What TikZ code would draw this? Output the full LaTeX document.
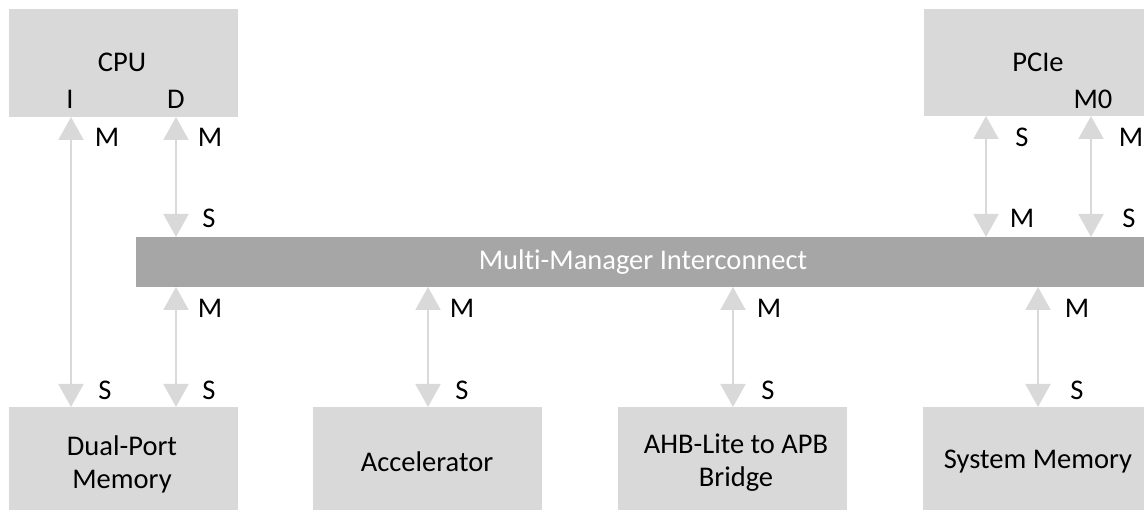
\documentclass[tikz,border=0pt]{standalone}
\usepackage{fontspec}
\setmainfont{Carlito}[Ligatures=NoCommon]
\usetikzlibrary{arrows.meta}
\definecolor{boxgray}{HTML}{D9D9D9}
\definecolor{bargray}{HTML}{A6A6A6}
\tikzset{
  unitbox/.style={fill=boxgray, inner sep=0pt, outer sep=0pt},
  busbar/.style={fill=bargray, inner sep=0pt, outer sep=0pt, text=white},
  txt/.style={inner sep=0pt, font=\fontsize{28.5}{33}\selectfont, align=center},
  conn/.style={draw=boxgray, line width=2pt,
    {Triangle[width=25pt,length=23pt]}-{Triangle[width=25pt,length=23pt]}},
}
\begin{document}
\begin{tikzpicture}[x=1pt,y=-1pt]
\useasboundingbox (0,0) rectangle (1144,510);
% boxes
\node[unitbox, minimum width=229pt, minimum height=108pt] (cpu) at (123.5,63) {};
\node[unitbox, minimum width=229pt, minimum height=107pt] (pcie) at (1038.5,62.5) {};
\node[busbar, minimum width=1016pt, minimum height=50pt] (bus) at (644,262) {};
\node[unitbox, minimum width=229pt, minimum height=103pt] (dpm) at (123.5,458.5) {};
\node[unitbox, minimum width=229pt, minimum height=103pt] (acc) at (427.5,458.5) {};
\node[unitbox, minimum width=229pt, minimum height=103pt] (ahb) at (732.5,458.5) {};
\node[unitbox, minimum width=229pt, minimum height=103pt] (sys) at (1037.5,458.5) {};
% texts in boxes
\node[txt] (cputxt) at (122,62) {CPU};
\node[txt] (cpuI) at (70,99) {I};
\node[txt] (cpuD) at (176,99) {D};
\node[txt] (pcietxt) at (1038,62) {PCIe};
\node[txt] (pcieM0) at (1093,99) {M0};
\node[txt, text=white] (bustxt) at (643,262) {Multi-Manager Interconnect};
\node[txt] (dpmtxt) at (122,464) {Dual-Port\\Memory};
\node[txt] (acctxt) at (427,462) {Accelerator};
\node[txt] (ahbtxt) at (736,463) {AHB-Lite to APB\\Bridge};
\node[txt] (systxt) at (1038,462) {System Memory};
% connector columns
\coordinate (xI) at (71,0);
\coordinate (xD) at (176,0);
\coordinate (xA) at (428,0);
\coordinate (xB) at (733,0);
\coordinate (xS) at (1038,0);
\coordinate (xP) at (986,0);
\coordinate (xQ) at (1091,0);
% connectors
\draw[conn] (cpu.south -| xI) -- (dpm.north -| xI);
\draw[conn] (cpu.south -| xD) -- (bus.north -| xD);
\draw[conn] (bus.south -| xD) -- (dpm.north -| xD);
\draw[conn] (bus.south -| xA) -- (acc.north -| xA);
\draw[conn] (bus.south -| xB) -- (ahb.north -| xB);
\draw[conn] (bus.south -| xS) -- (sys.north -| xS);
\draw[conn] (pcie.south -| xP) -- (bus.north -| xP);
\draw[conn] (pcie.south -| xQ) -- (bus.north -| xQ);
% port labels
\node[txt] (l1) at (107,137) {M};
\node[txt] (l2) at (210,137) {M};
\node[txt] (l3) at (209,218) {S};
\node[txt] (l4) at (1022,137) {S};
\node[txt] (l5) at (1131,137) {M};
\node[txt] (l6) at (1022,218) {M};
\node[txt] (l7) at (1129,218) {S};
\node[txt] (l8) at (210,308) {M};
\node[txt] (l9) at (462,308) {M};
\node[txt] (l10) at (769,308) {M};
\node[txt] (l11) at (1077,308) {M};
\node[txt] (l12) at (105,390) {S};
\node[txt] (l13) at (209,390) {S};
\node[txt] (l14) at (462,390) {S};
\node[txt] (l15) at (768,390) {S};
\node[txt] (l16) at (1077,390) {S};
\end{tikzpicture}
\end{document}
